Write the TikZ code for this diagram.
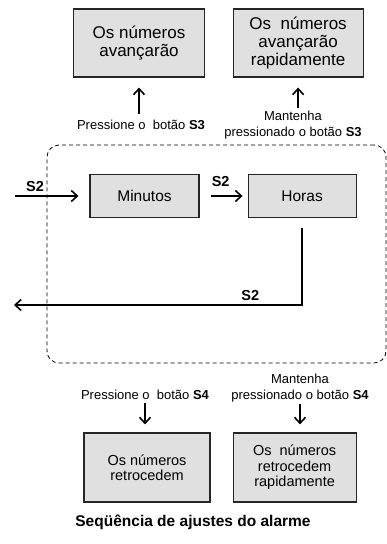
\documentclass[tikz,border=0pt]{standalone}
\usepackage{fontspec}
\setmainfont{Liberation Sans}
\usetikzlibrary{positioning,arrows.meta}

\begin{document}
\begin{tikzpicture}[x=1pt, y=-1pt,
    box/.style={draw=black!85, line width=1.1pt, fill=black!12, align=center, inner sep=0pt},
    big/.style={font=\fontsize{17}{18}\selectfont},
    mid/.style={font=\fontsize{15.5}{16}\selectfont},
    small/.style={font=\fontsize{14.5}{15.5}\selectfont},
    lbl/.style={align=center, font=\fontsize{13}{15.5}\selectfont, inner sep=1pt},
    key/.style={font=\bfseries\fontsize{14.5}{15}\selectfont, inner sep=1pt},
    arr/.style={-{Straight Barb[length=6pt,width=11pt]}, line width=1.6pt}]
        \useasboundingbox (0,0) rectangle (387,544);
        \node[box, big, minimum width=131, minimum height=68] (up1) at (139,43) {Os números\\avançarão};
        \node[box, big, minimum width=130, minimum height=68, right=27.5pt of up1] (up2) {Os~ números\\avançarão\\rapidamente};
        \node[lbl] (p3) at (141,125) {Pressione o~ botão \textbf{S3}};
        \node[lbl] (m3) at (293,125) {Mantenha\\pressionado o botão \textbf{S3}};
        \draw[arr, shorten <=5pt, shorten >=10pt] (p3.north -| up1.south) -- (up1.south);
        \draw[arr, shorten <=2pt, shorten >=10pt] (m3.north -| up2.south) -- (up2.south);
        \node[draw, dash pattern=on 4pt off 3pt, line width=0.8pt, rounded corners=12pt, minimum width=339, minimum height=218] (frame) at (216.5,254) {};
        \node[box, mid, minimum width=109, minimum height=43] (min) at (144.5,196) {Minutos};
        \node[box, mid, minimum width=108, minimum height=43, right=48pt of min] (hor) {Horas};
        \coordinate (in) at (15,196);
        \coordinate (back) at (14,305);
        \draw[arr, shorten >=11pt] (in) -- node[key, above=3pt, pos=.27] {S2} (min);
        \draw[arr, shorten <=11pt, shorten >=5pt] (min) -- node[key, above=8pt, pos=.44] {S2} (hor);
        \draw[arr, shorten <=10pt] (hor) |- node[key, above=3pt, pos=.59] {S2} (back);
        \node[lbl] (p4) at (145,395) {Pressione o~ botão \textbf{S4}};
        \node[lbl] (m4) at (300,388) {Mantenha\\pressionado o botão \textbf{S4}};
        \node[box, small, minimum width=126, minimum height=69] (dn1) at (147,467.5) {Os números\\retrocedem};
        \node[box, small, minimum width=123, minimum height=69, right=22pt of dn1] (dn2) {Os~ números\\retrocedem\\rapidamente};
        \draw[arr, shorten <=2pt, shorten >=8pt] (p4.south) -- (p4.south |- dn1.north);
        \draw[arr, shorten <=1pt, shorten >=8pt] (m4.south) -- (m4.south |- dn2.north);
        \node[font=\bfseries\fontsize{15.5}{16}\selectfont] (title) at (193,522) {Seqüência de ajustes do alarme};
      \end{tikzpicture}
\end{document}
